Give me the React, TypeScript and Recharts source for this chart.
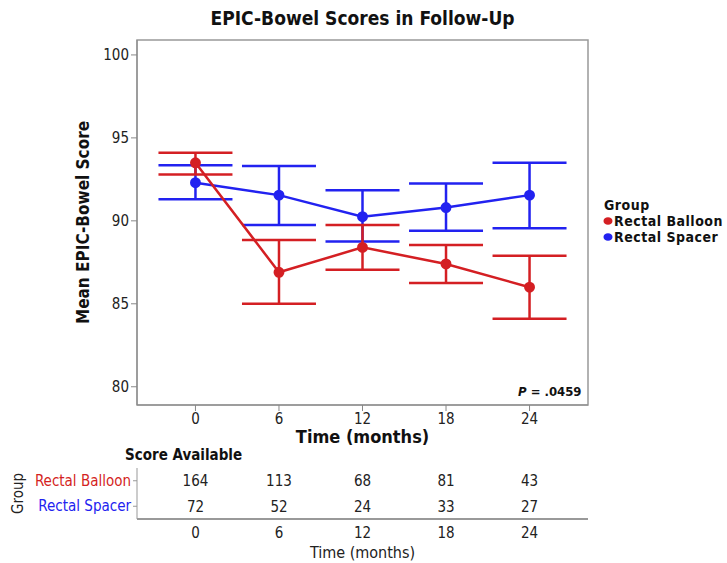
import React from "react";
import {
  LineChart,
  Line,
  XAxis,
  YAxis,
  ErrorBar,
  ReferenceArea,
  ScatterChart,
  Scatter,
  LabelList
} from "recharts";

const FONT = '"DejaVu Sans Condensed", "DejaVu Sans", sans-serif';
const RED = "#d41f23";
const BLUE = "#2222f0";

const months = [0, 6, 12, 18, 24];
const yTicks = [80, 85, 90, 95, 100];
const groups = ["Rectal Balloon", "Rectal Spacer"];

// means and interval bounds
const balloonMean = [93.5, 86.9, 88.4, 87.4, 86.0];
const balloonLow = [92.8, 85.0, 87.05, 86.25, 84.1];
const balloonHigh = [94.1, 88.85, 89.75, 88.55, 87.9];
const spacerMean = [92.3, 91.55, 90.25, 90.8, 91.55];
const spacerLow = [91.3, 89.75, 88.75, 89.4, 89.55];
const spacerHigh = [93.35, 93.3, 91.85, 92.25, 93.5];

// score available counts
const balloonN = [164, 113, 68, 81, 43];
const spacerN = [72, 52, 24, 33, 27];

const X_DOMAIN: [number, number] = [-4.2, 28.2];
const Y_DOMAIN: [number, number] = [78.9, 100.9];

const rows = months.map((m, i) => ({
  month: m,
  balloon: balloonMean[i],
  balloonErr: [balloonMean[i] - balloonLow[i], balloonHigh[i] - balloonMean[i]],
  spacer: spacerMean[i],
  spacerErr: [spacerMean[i] - spacerLow[i], spacerHigh[i] - spacerMean[i]]
}));

const balloonCounts = months.map((m, i) => ({ month: m, group: groups[0], n: balloonN[i] }));
const spacerCounts = months.map((m, i) => ({ month: m, group: groups[1], n: spacerN[i] }));

function GroupTick(props: any) {
  const { x, y, payload } = props;
  const color = payload.value === groups[0] ? RED : BLUE;
  return (
    <text x={x} y={y} dy={5} textAnchor="end" fill={color} fontSize={15} fontFamily={FONT}>
      {payload.value}
    </text>
  );
}

function Marker({ color }: { color: string }) {
  return (
    <svg width={10} height={10} style={{ marginRight: 1 }}>
      <ellipse cx={5} cy={5} rx={4.5} ry={3.8} fill={color} />
    </svg>
  );
}

export default function App() {
  return (
    <div style={{ position: "absolute", left: 0, top: 0, width: 727, height: 563, background: "#fff", fontFamily: FONT }}>
      <div
        style={{
          position: "absolute",
          left: 137,
          width: 451,
          top: 7,
          textAlign: "center",
          fontSize: 19,
          fontWeight: "bold",
          color: "#111"
        }}
      >
        EPIC-Bowel Scores in Follow-Up
      </div>

      <div style={{ position: "absolute", left: 0, top: 0 }}>
        <LineChart width={727} height={450} data={rows} margin={{ top: 40, right: 139, bottom: 5, left: 67 }}>
          <XAxis
            type="number"
            dataKey="month"
            domain={X_DOMAIN}
            ticks={months}
            allowDataOverflow
            height={40}
            tick={{ fontSize: 15, fill: "#222", fontFamily: FONT }}
            tickLine={{ stroke: "#888" }}
            axisLine={{ stroke: "#888" }}
            label={{
              value: "Time (months)",
              position: "insideBottom",
              offset: 2,
              fontSize: 18,
              fontWeight: "bold",
              fill: "#111",
              fontFamily: FONT
            }}
          />
          <YAxis
            type="number"
            domain={Y_DOMAIN}
            ticks={yTicks}
            allowDataOverflow
            width={70}
            tick={{ fontSize: 15, fill: "#222", fontFamily: FONT }}
            tickLine={{ stroke: "#888" }}
            axisLine={{ stroke: "#888" }}
            label={{
              value: "Mean EPIC-Bowel Score",
              angle: -90,
              position: "center",
              dx: -19,
              fontSize: 17,
              fontWeight: "bold",
              fill: "#111",
              fontFamily: FONT
            }}
          />
          <ReferenceArea
            x1={X_DOMAIN[0]}
            x2={X_DOMAIN[1]}
            y1={Y_DOMAIN[0]}
            y2={Y_DOMAIN[1]}
            fill="none"
            stroke="#999"
            strokeWidth={1.5}
          />
          <Line
            dataKey="spacer"
            stroke={BLUE}
            strokeWidth={2.5}
            dot={{ r: 4.2, fill: BLUE, stroke: BLUE }}
            isAnimationActive={false}
          >
            <ErrorBar dataKey="spacerErr" direction="y" width={37} stroke={BLUE} strokeWidth={2.5} />
          </Line>
          <Line
            dataKey="balloon"
            stroke={RED}
            strokeWidth={2.5}
            dot={{ r: 4.2, fill: RED, stroke: RED }}
            isAnimationActive={false}
          >
            <ErrorBar dataKey="balloonErr" direction="y" width={37} stroke={RED} strokeWidth={2.5} />
          </Line>
        </LineChart>
      </div>

      <div
        style={{
          position: "absolute",
          left: 518,
          top: 384,
          fontSize: 13,
          fontWeight: "bold",
          color: "#111"
        }}
      >
        <i>P</i> = .0459
      </div>

      <div
        style={{
          position: "absolute",
          left: 604,
          top: 197,
          fontSize: 14,
          letterSpacing: 0.5,
          fontWeight: "bold",
          color: "#111",
          lineHeight: "16px"
        }}
      >
        <div>Group</div>
        <div style={{ display: "flex", alignItems: "center", marginLeft: -1 }}>
          <Marker color={RED} />
          Rectal Balloon
        </div>
        <div style={{ display: "flex", alignItems: "center", marginLeft: -1 }}>
          <Marker color={BLUE} />
          Rectal Spacer
        </div>
      </div>

      <div style={{ position: "absolute", left: 125, top: 446, fontSize: 15, fontWeight: "bold", color: "#111" }}>
        Score Available
      </div>

      <div style={{ position: "absolute", left: 0, top: 440 }}>
        <ScatterChart width={727} height={123} margin={{ top: 28, right: 139, bottom: 0, left: 27 }}>
          <XAxis
            type="number"
            dataKey="month"
            domain={X_DOMAIN}
            ticks={months}
            allowDataOverflow
            height={44}
            tick={{ fontSize: 15, fill: "#222", fontFamily: FONT }}
            tickLine={false}
            axisLine={{ stroke: "#999", strokeWidth: 2 }}
            label={{
              value: "Time (months)",
              position: "insideBottom",
              offset: 5,
              fontSize: 16,
              fill: "#222",
              fontFamily: FONT
            }}
          />
          <YAxis
            type="category"
            dataKey="group"
            reversed
            allowDuplicatedCategory={false}
            width={110}
            tick={<GroupTick />}
            tickLine={{ stroke: "#999" }}
            tickSize={4}
            axisLine={{ stroke: "#999" }}
            label={{
              value: "Group",
              angle: -90,
              position: "center",
              dx: -64,
              fontSize: 15,
              fill: "#222",
              fontFamily: FONT
            }}
          />
          <Scatter data={balloonCounts} shape={() => <g />} isAnimationActive={false}>
            <LabelList dataKey="n" position="center" fontSize={15} fill="#222" fontFamily={FONT} />
          </Scatter>
          <Scatter data={spacerCounts} shape={() => <g />} isAnimationActive={false}>
            <LabelList dataKey="n" position="center" fontSize={15} fill="#222" fontFamily={FONT} />
          </Scatter>
        </ScatterChart>
      </div>
    </div>
  );
}
